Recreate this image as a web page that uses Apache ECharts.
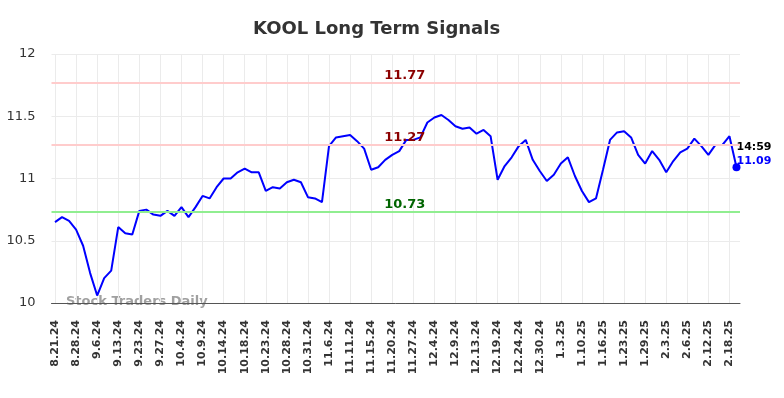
<!DOCTYPE html>
<html>
<head>
<meta charset="utf-8">
<script src="https://cdn.jsdelivr.net/npm/echarts@6/dist/echarts.min.js"></script>
<style>
html, body { margin: 0; padding: 0; background: #fff; }
#chart { width: 784px; height: 398px; }
</style>
</head>
<body>
<div id="chart"></div>
<script>
var dates = [
	'8.21.24','8.23.24','8.26.24','8.28.24','8.30.24','9.4.24','9.6.24','9.10.24','9.11.24','9.13.24',
	'9.17.24','9.19.24','9.23.24','9.24.24','9.26.24','9.27.24','10.1.24','10.3.24','10.4.24','10.7.24',
	'10.8.24','10.9.24','10.10.24','10.11.24','10.14.24','10.16.24','10.17.24','10.18.24','10.21.24','10.22.24',
	'10.23.24','10.24.24','10.25.24','10.28.24','10.29.24','10.30.24','10.31.24','11.1.24','11.4.24','11.6.24',
	'11.7.24','11.8.24','11.11.24','11.12.24','11.13.24','11.15.24','11.18.24','11.19.24','11.20.24','11.21.24',
	'11.22.24','11.27.24','11.29.24','12.2.24','12.4.24','12.5.24','12.6.24','12.9.24','12.10.24','12.12.24',
	'12.13.24','12.16.24','12.18.24','12.19.24','12.20.24','12.23.24','12.24.24','12.26.24','12.27.24','12.30.24',
	'12.31.24','1.2.25','1.3.25','1.6.25','1.8.25','1.10.25','1.13.25','1.14.25','1.16.25','1.17.25',
	'1.22.25','1.23.25','1.24.25','1.27.25','1.29.25','1.30.25','1.31.25','2.3.25','2.4.25','2.5.25',
	'2.6.25','2.7.25','2.11.25','2.12.25','2.13.25','2.14.25','2.18.25','2.19.25'
];
var prices = [
	10.65,10.69,10.66,10.59,10.46,10.24,10.06,10.20,10.26,10.61,
	10.56,10.55,10.74,10.75,10.71,10.70,10.74,10.70,10.77,10.69,
	10.77,10.86,10.84,10.93,11.00,11.00,11.05,11.08,11.05,11.05,
	10.90,10.93,10.92,10.97,10.99,10.97,10.85,10.84,10.81,11.26,
	11.33,11.34,11.35,11.30,11.24,11.07,11.09,11.15,11.19,11.22,
	11.31,11.31,11.33,11.45,11.49,11.51,11.47,11.42,11.40,11.41,
	11.36,11.39,11.34,10.99,11.10,11.17,11.26,11.31,11.15,11.06,
	10.98,11.03,11.12,11.17,11.02,10.90,10.81,10.84,11.07,11.31,
	11.37,11.38,11.33,11.19,11.12,11.22,11.15,11.05,11.14,11.21,
	11.24,11.32,11.26,11.19,11.27,11.27,11.34,11.09
];
var signalLevels = [11.77, 11.27, 10.73];
var signalColors = ['#ffcccc', '#ffcccc', '#90ee90'];
var signalTextColors = ['#8b0000', '#8b0000', '#006400'];
var lastTime = '14:59';

var seriesData = prices.map(function (v, i) {
	if (i === prices.length - 1) {
		return {
			value: v,
			symbol: 'circle',
			symbolSize: 8,
			label: {
				show: true,
				position: 'right',
				distance: 0,
				offset: [-4, -13],
				formatter: '{t|' + lastTime + '}\n{v|' + v.toFixed(2) + '}',
				rich: {
					t: { color: '#000', fontWeight: 'bold', fontSize: 11, lineHeight: 14, fontFamily: 'DejaVu Sans' },
					v: { color: '#0000ff', fontWeight: 'bold', fontSize: 11, lineHeight: 14, fontFamily: 'DejaVu Sans' }
				}
			}
		};
	}
	return v;
});

var markLines = signalLevels.map(function (lv, i) {
	return {
		yAxis: lv,
		lineStyle: { color: signalColors[i], width: 2, type: 'solid' },
		label: {
			show: true,
			position: 'insideMiddleTop',
			distance: 1,
			offset: [9, 0],
			formatter: lv.toFixed(2),
			color: signalTextColors[i],
			fontWeight: 'bold',
			fontSize: 13,
			fontFamily: 'DejaVu Sans'
		}
	};
});

var option = {
	animation: false,
	title: {
		text: 'KOOL Long Term Signals',
		left: 248,
		top: 15,
		textStyle: { color: '#333', fontSize: 18, fontWeight: 'bold', fontFamily: 'DejaVu Sans' }
	},
	grid: { left: 51.5, right: 44, top: 54, bottom: 95 },
	graphic: [{
		type: 'text',
		left: 66,
		top: 295,
		style: { text: 'Stock Traders Daily', fill: 'rgba(128,128,128,0.75)', font: 'bold 13px DejaVu Sans' }
	}],
	xAxis: {
		type: 'category',
		data: dates,
		boundaryGap: true,
		axisLine: { lineStyle: { color: '#555', width: 1 } },
		axisTick: { show: false, alignWithLabel: true, interval: 2 },
		axisLabel: {
			interval: 2,
			rotate: 90,
			margin: 17,
			color: '#333',
			fontSize: 11,
			fontWeight: 'bold',
			fontFamily: 'DejaVu Sans'
		},
		splitLine: { show: true, interval: 2, alignWithLabel: true, lineStyle: { color: '#ebebeb' } }
	},
	yAxis: {
		type: 'value',
		min: 10,
		max: 12,
		interval: 0.5,
		axisLine: { show: false },
		axisTick: { show: false },
		axisLabel: { color: '#333', fontSize: 13, margin: 16, fontFamily: 'DejaVu Sans' },
		splitLine: { lineStyle: { color: '#ebebeb' } }
	},
	series: [{
		type: 'line',
		data: seriesData,
		showSymbol: true,
		showAllSymbol: true,
		symbol: 'none',
		lineStyle: { color: '#0000ff', width: 2 },
		itemStyle: { color: '#0000ff' },
		markLine: { symbol: 'none', silent: true, data: markLines }
	}]
};

var myChart = echarts.init(document.getElementById('chart'));
myChart.setOption(option);
</script>
</body>
</html>
